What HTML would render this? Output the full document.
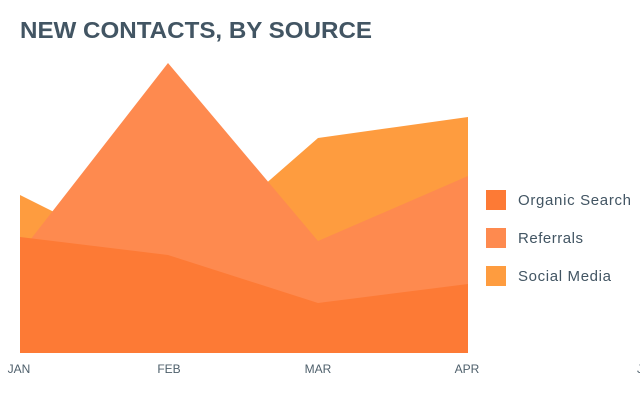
<!DOCTYPE html>
<html><head><meta charset="utf-8"><style>
html,body{margin:0;padding:0;background:#fff;width:640px;height:410px;overflow:hidden}
</style></head><body>
<svg width="640" height="410" xmlns="http://www.w3.org/2000/svg" font-family="Liberation Sans, sans-serif">
<text x="20" y="38" font-size="23" font-weight="bold" fill="#425563" textLength="352" lengthAdjust="spacingAndGlyphs">NEW CONTACTS, BY SOURCE</text>
<polygon points="20,195 168,269 318,138 468,117 468,353 20,353" fill="#fe9c3f"/>
<polygon points="20,253 168,63 318,241 468,176 468,353 20,353" fill="#fe8a4f"/>
<polygon points="20,237 168,255 318,303 468,284 468,353 20,353" fill="#fd7a35"/>
<g font-size="12" fill="#4e5f6b" text-anchor="middle">
<text x="19" y="373">JAN</text>
<text x="169" y="373">FEB</text>
<text x="318" y="373">MAR</text>
<text x="467" y="373">APR</text>
<text x="640" y="373">J</text>
</g>
<rect x="486" y="190" width="20" height="20" fill="#fd7a35"/>
<rect x="486" y="228" width="20" height="20" fill="#fe8a4f"/>
<rect x="486" y="266" width="20" height="20" fill="#fe9c3f"/>
<g font-size="15" fill="#425563">
<text x="518" y="205" textLength="113">Organic Search</text>
<text x="518" y="243" textLength="65">Referrals</text>
<text x="518" y="281" textLength="93">Social Media</text>
</g>
</svg>
</body></html>
